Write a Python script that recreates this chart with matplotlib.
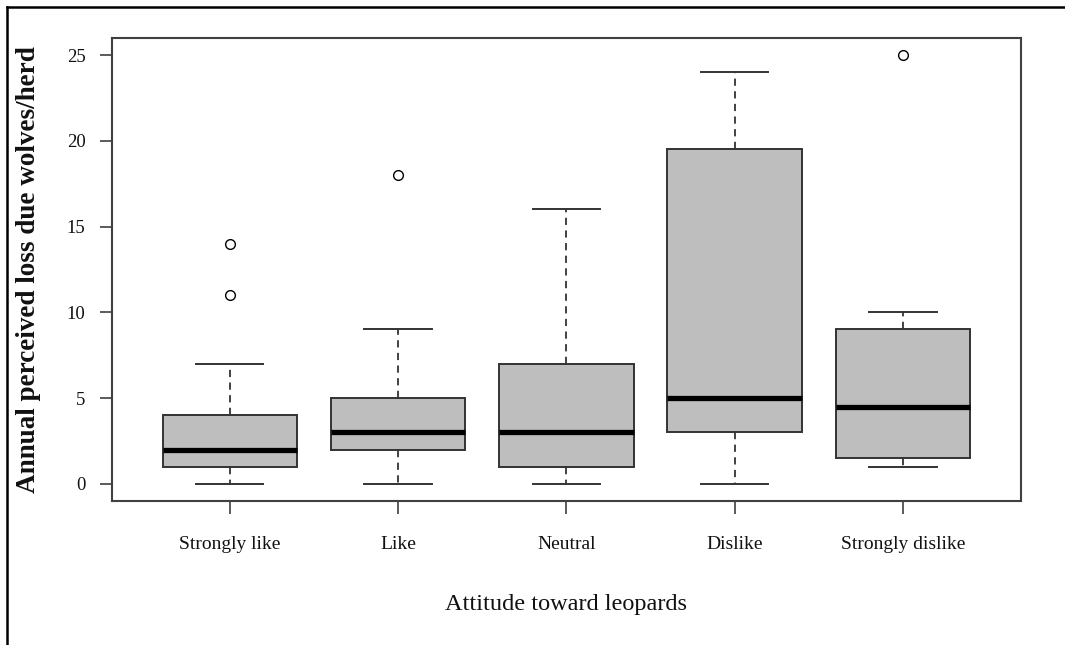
import matplotlib.pyplot as plt
from matplotlib.lines import Line2D

# Attitude groups and their box summaries (perceived annual loss per herd)
categories = ["Strongly like", "Like", "Neutral", "Dislike", "Strongly dislike"]
whisker_low = [0, 0, 0, 0, 1]
q1 = [1, 2, 1, 3, 1.5]
medians = [2, 3, 3, 5, 4.5]
q3 = [4, 5, 7, 19.5, 9]
whisker_high = [7, 9, 16, 24, 10]
outliers = [[11, 14], [18], [], [], [25]]

plt.rcParams['font.family'] = ['Liberation Serif', 'DejaVu Serif']

fig = plt.figure(figsize=(10.65, 6.45), dpi=100)
ax = fig.add_axes([0.1052, 0.2233, 0.9584 - 0.1052, 0.9411 - 0.2233])

stats = []
for i, name in enumerate(categories):
    stats.append(dict(label=name, whislo=whisker_low[i], q1=q1[i], med=medians[i],
                      q3=q3[i], whishi=whisker_high[i], fliers=outliers[i]))

edge = "#333333"
positions = range(1, len(categories) + 1)
ax.bxp(stats, positions=positions, widths=0.8, capwidths=0.4, patch_artist=True,
       boxprops=dict(facecolor="#bebebe", edgecolor=edge, linewidth=1.4),
       medianprops=dict(color="black", linewidth=3.8, solid_capstyle="butt"),
       whiskerprops=dict(color=edge, linewidth=1.3, linestyle=(0, (4, 3))),
       capprops=dict(color=edge, linewidth=1.4),
       flierprops=dict(marker="o", markersize=7, markerfacecolor="none",
                       markeredgecolor="black", markeredgewidth=1.0))

ax.set_xlim(0.3, 5.7)
ax.set_ylim(-1, 26)
ax.set_yticks([0, 5, 10, 15, 20, 25])
ax.set_xticks(list(positions))
ax.set_xticklabels(categories)

for s in ax.spines.values():
    s.set_color("#404040")
    s.set_linewidth(1.5)
ax.tick_params(axis="both", colors="#404040", labelcolor="#111111",
               length=9, width=1.2)
ax.tick_params(axis="x", pad=16, labelsize=14)
ax.tick_params(axis="y", pad=10, labelsize=13.5)

ax.set_xlabel("Attitude toward leopards", fontsize=17.5, labelpad=30, color="#111111")
fig.text(0.0263, 0.5814, "Annual perceived loss due wolves/herd", rotation=90,
         fontsize=19.5, fontweight="bold", ha="center", va="center", color="#111111")

# outer frame lines along the top and left of the figure
fig.add_artist(Line2D([7 / 1065, 1], [1 - 7 / 645, 1 - 7 / 645], color="black", linewidth=1.8))
fig.add_artist(Line2D([7 / 1065, 7 / 1065], [0, 1 - 7 / 645], color="black", linewidth=1.8))

fig.savefig("out.png", dpi=100)
